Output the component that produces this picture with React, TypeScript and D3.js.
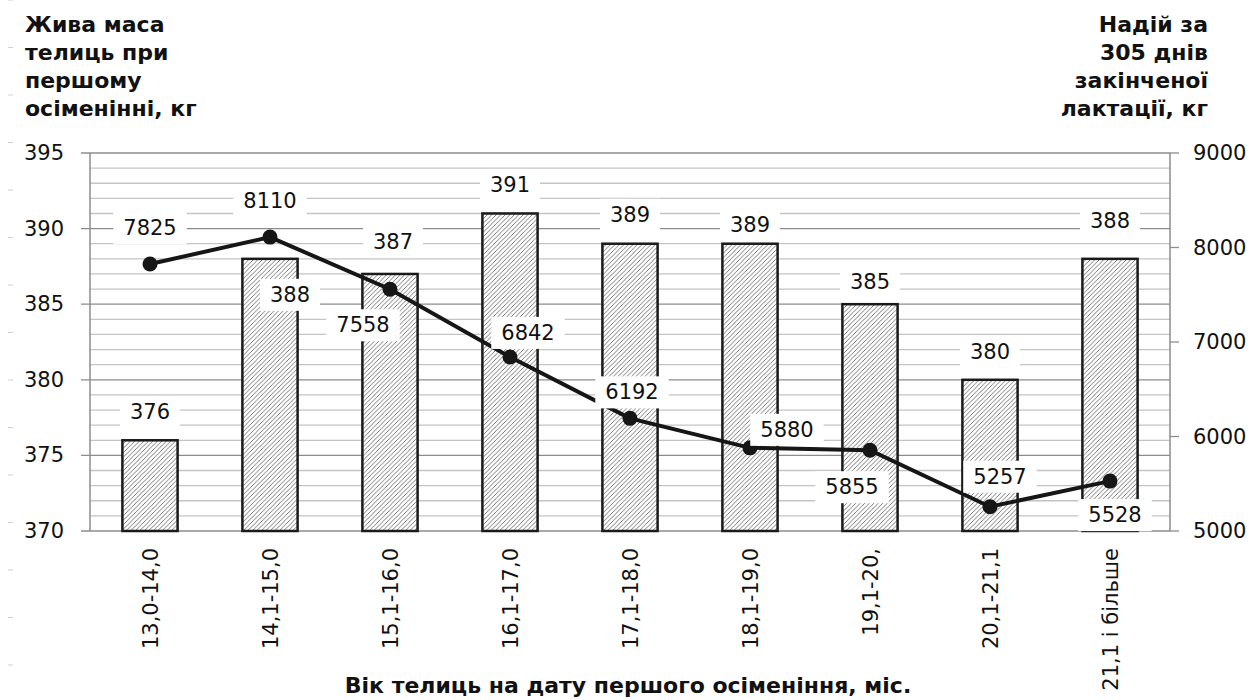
import * as d3 from 'd3';
import { useRef, useEffect } from 'react';

const categories = ['13,0-14,0', '14,1-15,0', '15,1-16,0', '16,1-17,0', '17,1-18,0', '18,1-19,0', '19,1-20,', '20,1-21,1', '21,1 і більше'];
const bodyWeight = [376, 388, 387, 391, 389, 389, 385, 380, 388];
const milkYield = [7825, 8110, 7558, 6842, 6192, 5880, 5855, 5257, 5528];
const leftTicks = [370, 375, 380, 385, 390, 395];
const rightTicks = [5000, 6000, 7000, 8000, 9000];
const leftTitle = ['Жива маса', 'телиць при', 'першому', 'осіменінні, кг'];
const rightTitle = ['Надій за', '305 днів', 'закінченої', 'лактації, кг'];
const xTitle = 'Вік телиць на дату першого осіменіння, міс.';

// label offsets (px) from bar top / line point, tuned by eye
const barLabelOffset: [number, number][] = [[0, -28], [20, 36], [3, -32], [0, -28], [0, -29], [0, -19], [0, -22], [0, -28], [0, -38]];
const lineLabelOffset: [number, number][] = [[0, -36], [0, -36], [-27, 36], [18, -24], [2, -26], [37, -18], [-18, 37], [10, -30], [5, 34]];

const FONT = '"DejaVu Sans", Verdana, sans-serif';

export default function App() {
    const svgRef = useRef<SVGSVGElement>(null);

    useEffect(() => {
        if (!svgRef.current) return;
        const W = 1255, H = 700;
        const left = 90, right = 1170, top = 153, bottom = 531;

        const svg = d3.select(svgRef.current).attr('width', W).attr('height', H);
        svg.selectAll('*').remove();

        const defs = svg.append('defs');
        const pat = defs.append('pattern')
            .attr('id', 'hatch')
            .attr('patternUnits', 'userSpaceOnUse')
            .attr('width', 4.5).attr('height', 4.5);
        pat.append('rect').attr('width', 4.5).attr('height', 4.5).attr('fill', '#fff');
        pat.append('path')
            .attr('d', 'M-1,1 l2,-2 M0,4.5 l4.5,-4.5 M3.5,5.5 l2,-2')
            .attr('stroke', '#6a6a6a').attr('stroke-width', 0.9);

        svg.append('rect').attr('width', W).attr('height', H).attr('fill', '#fff');

        // faint marks along the left edge
        svg.append('g').selectAll('line')
            .data(d3.range(0, H, 47.5))
            .enter().append('line')
            .attr('x1', 8).attr('x2', 13)
            .attr('y1', d => d).attr('y2', d => d)
            .attr('stroke', '#d0d0d0').attr('stroke-width', 1);

        const x = d3.scaleBand<string>()
            .domain(categories)
            .range([left, right])
            .paddingInner(0.54)
            .paddingOuter(0.27);
        const yL = d3.scaleLinear().domain([370, 395]).range([bottom, top]);
        const yR = d3.scaleLinear().domain([5000, 9000]).range([bottom, top]);
        const cx = (c: string) => (x(c) || 0) + x.bandwidth() / 2;

        // grid
        const grid = svg.append('g');
        grid.selectAll('line')
            .data(d3.range(370, 396))
            .enter().append('line')
            .attr('x1', d => d % 5 === 0 ? left - 9 : left)
            .attr('x2', right)
            .attr('y1', d => yL(d)).attr('y2', d => yL(d))
            .attr('stroke', d => d % 5 === 0 ? '#8c8c8c' : '#c4c4c4')
            .attr('stroke-width', 1.3);

        // axes lines
        svg.append('line').attr('x1', left).attr('x2', left).attr('y1', top).attr('y2', bottom)
            .attr('stroke', '#8c8c8c').attr('stroke-width', 1.5);
        svg.append('line').attr('x1', right).attr('x2', right).attr('y1', top).attr('y2', bottom)
            .attr('stroke', '#8c8c8c').attr('stroke-width', 1.5);
        svg.append('g').selectAll('line')
            .data(rightTicks)
            .enter().append('line')
            .attr('x1', right).attr('x2', right + 9)
            .attr('y1', d => yR(d)).attr('y2', d => yR(d))
            .attr('stroke', '#8c8c8c').attr('stroke-width', 1.3);

        // tick labels
        svg.append('g').selectAll('text')
            .data(leftTicks)
            .enter().append('text')
            .attr('x', 64).attr('y', d => yL(d))
            .attr('text-anchor', 'end').attr('dominant-baseline', 'central')
            .attr('font-family', FONT).attr('font-size', 21).attr('fill', '#111')
            .text(d => d);
        svg.append('g').selectAll('text')
            .data(rightTicks)
            .enter().append('text')
            .attr('x', 1193).attr('y', d => yR(d))
            .attr('dominant-baseline', 'central')
            .attr('font-family', FONT).attr('font-size', 21).attr('fill', '#111')
            .text(d => d);
        svg.append('g').selectAll('text')
            .data(categories)
            .enter().append('text')
            .attr('transform', d => `translate(${cx(d) + 1},${bottom + 17}) rotate(-90)`)
            .attr('text-anchor', 'end').attr('dominant-baseline', 'central')
            .attr('font-family', FONT).attr('font-size', 21).attr('fill', '#111')
            .text(d => d);

        // bars
        svg.append('g').selectAll('rect')
            .data(bodyWeight)
            .enter().append('rect')
            .attr('x', (_, i) => x(categories[i]) || 0)
            .attr('y', d => yL(d))
            .attr('width', x.bandwidth())
            .attr('height', d => bottom - yL(d))
            .attr('fill', 'url(#hatch)')
            .attr('stroke', '#1a1a1a').attr('stroke-width', 2.5);

        // line
        const line = d3.line<number>()
            .x((_, i) => cx(categories[i]))
            .y(d => yR(d));
        svg.append('path')
            .datum(milkYield)
            .attr('d', line)
            .attr('fill', 'none').attr('stroke', '#161616').attr('stroke-width', 4);
        svg.append('g').selectAll('circle')
            .data(milkYield)
            .enter().append('circle')
            .attr('cx', (_, i) => cx(categories[i]))
            .attr('cy', d => yR(d))
            .attr('r', 7.5)
            .attr('fill', '#161616');

        // data labels with white boxes
        const addLabel = (g: d3.Selection<SVGGElement, unknown, null, undefined>, lx: number, ly: number, txt: string) => {
            const t = g.append('text')
                .attr('x', lx).attr('y', ly)
                .attr('text-anchor', 'middle').attr('dominant-baseline', 'central')
                .attr('font-family', FONT).attr('font-size', 21).attr('fill', '#111')
                .text(txt);
            const bb = (t.node() as SVGTextElement).getBBox();
            g.insert('rect', 'text:last-of-type')
                .attr('x', bb.x - 10).attr('y', ly - 16)
                .attr('width', bb.width + 20).attr('height', 32)
                .attr('fill', '#fff');
        };
        const labels = svg.append('g');
        bodyWeight.forEach((v, i) => {
            const g = labels.append('g');
            addLabel(g, cx(categories[i]) + barLabelOffset[i][0], yL(v) + barLabelOffset[i][1], String(v));
        });
        milkYield.forEach((v, i) => {
            const g = labels.append('g');
            addLabel(g, cx(categories[i]) + lineLabelOffset[i][0], yR(v) + lineLabelOffset[i][1], String(v));
        });

        // titles
        svg.append('g').selectAll('text')
            .data(leftTitle)
            .enter().append('text')
            .attr('x', 25).attr('y', (_, i) => 32 + i * 28)
            .attr('font-family', FONT).attr('font-weight', 'bold').attr('font-size', 22).attr('fill', '#111')
            .text(d => d);
        svg.append('g').selectAll('text')
            .data(rightTitle)
            .enter().append('text')
            .attr('x', 1208).attr('y', (_, i) => 32 + i * 28)
            .attr('text-anchor', 'end')
            .attr('font-family', FONT).attr('font-weight', 'bold').attr('font-size', 22).attr('fill', '#111')
            .text(d => d);
        svg.append('text')
            .attr('x', 628).attr('y', 693)
            .attr('text-anchor', 'middle')
            .attr('font-family', FONT).attr('font-weight', 'bold').attr('font-size', 22).attr('fill', '#111')
            .text(xTitle);
    }, []);

    return <svg ref={svgRef} style={{ position: 'absolute', left: 0, top: 0, display: 'block' }} />;
}
